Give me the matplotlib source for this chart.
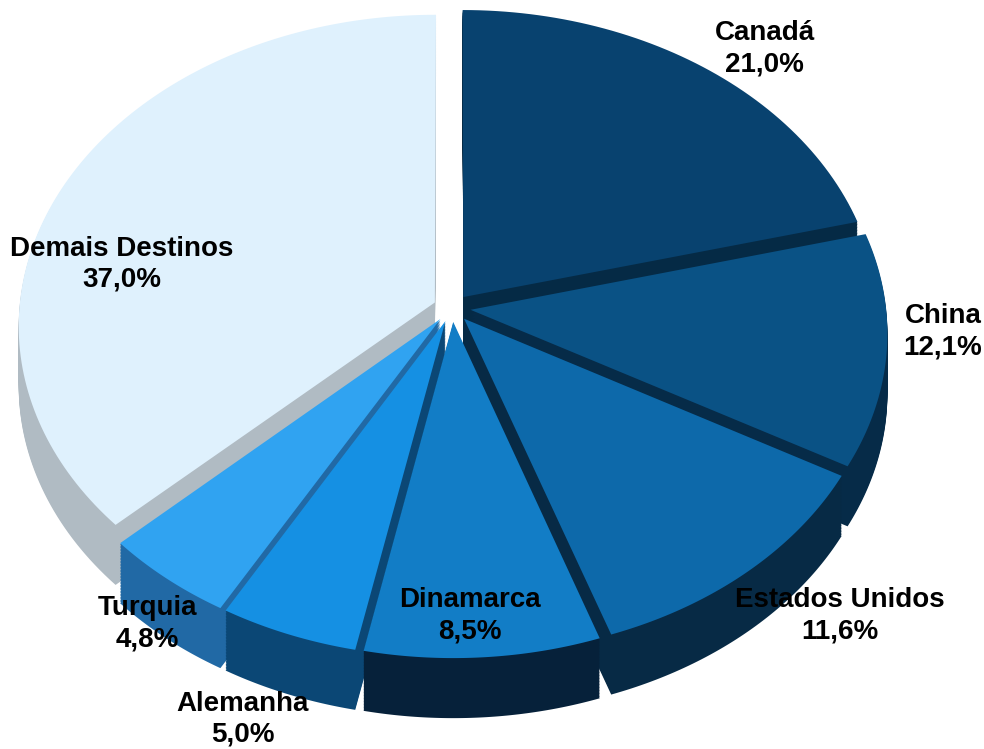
import numpy as np
import matplotlib
matplotlib.use('Agg')
import matplotlib.pyplot as plt
from matplotlib.transforms import Transform, Affine2D
from matplotlib.path import Path

labels = ['Canadá', 'China', 'Estados Unidos', 'Dinamarca', 'Alemanha', 'Turquia', 'Demais Destinos']
values = [21.0, 12.1, 11.6, 8.5, 5.0, 4.8, 37.0]
pct_labels = ['21,0%', '12,1%', '11,6%', '8,5%', '5,0%', '4,8%', '37,0%']

top_colors = ['#08426f', '#0a5285', '#0d69aa', '#127dc6', '#1590e3', '#30a3f1', '#dff1fd']
side_colors = ['#052a45', '#062b48', '#072a45', '#06213a', '#0b4775', '#2169a5', '#b0bbc3']

# label block centres (data coords)
label_pos = [(0.753, 0.837), (1.182, -0.0775), (0.934, -0.995), (0.043, -0.995),
             (-0.503, -1.328), (-0.734, -1.021), (-0.794, 0.142)]


class Perspective(Transform):
    """Simple projective tilt: far side (y>0) shrinks, near side grows."""
    input_dims = output_dims = 2
    is_separable = False
    has_inverse = True

    def __init__(self, k):
        super().__init__()
        self.k = k

    def transform_non_affine(self, values):
        v = np.asarray(values, float)
        w = 1.0 + self.k * v[:, 1]
        return v / w[:, None]

    def transform_path_non_affine(self, path):
        pts, codes = [], []
        for bez, code in path.iter_bezier():
            cp = bez.control_points
            if code == Path.MOVETO:
                pts.append(cp[0])
                codes.append(Path.MOVETO)
            else:
                n = 1 if len(cp) == 2 else 30
                seg = bez(np.linspace(0, 1, n + 1)[1:])
                pts.extend(seg)
                codes.extend([Path.LINETO] * len(seg))
        return Path(self.transform_non_affine(np.array(pts)), codes)

    def inverted(self):
        return InvPerspective(self.k)


class InvPerspective(Transform):
    input_dims = output_dims = 2
    is_separable = False
    has_inverse = True

    def __init__(self, k):
        super().__init__()
        self.k = k

    def transform_non_affine(self, values):
        v = np.asarray(values, float)
        w = 1.0 - self.k * v[:, 1]
        return v / w[:, None]

    def inverted(self):
        return Perspective(self.k)


fig = plt.figure(figsize=(9.84, 7.49), dpi=100)
ax = fig.add_axes([0, 0, 1, 1])

persp = Perspective(0.073)
explode = [0.045] * len(values)
depth = 0.194
n = 40

for k in range(n, -1, -1):
    cols = top_colors if k == 0 else side_colors
    wedges, _ = ax.pie(values, explode=explode, startangle=90, counterclock=False,
                       colors=cols, center=(0, 0), radius=1,
                       wedgeprops=dict(linewidth=0), frame=False)
    tr = persp + Affine2D().translate(0, -depth * k / n) + ax.transData
    for w in wedges:
        w.set_transform(tr)

ax.set_aspect('auto')
ax.set_xlim(-1.0878, 1.2804)
ax.set_ylim(-1.4249, 0.9952)
ax.axis('off')

fam = ['Liberation Sans Narrow', 'Liberation Sans', 'DejaVu Sans']
for lab, pct, (x, y) in zip(labels, pct_labels, label_pos):
    ax.text(x, y, f'{lab}\n{pct}', ha='center', va='center', fontsize=20,
            fontweight='bold', family=fam, linespacing=1.25, color='black',
            zorder=10)

fig.savefig('out.png', dpi=100)
